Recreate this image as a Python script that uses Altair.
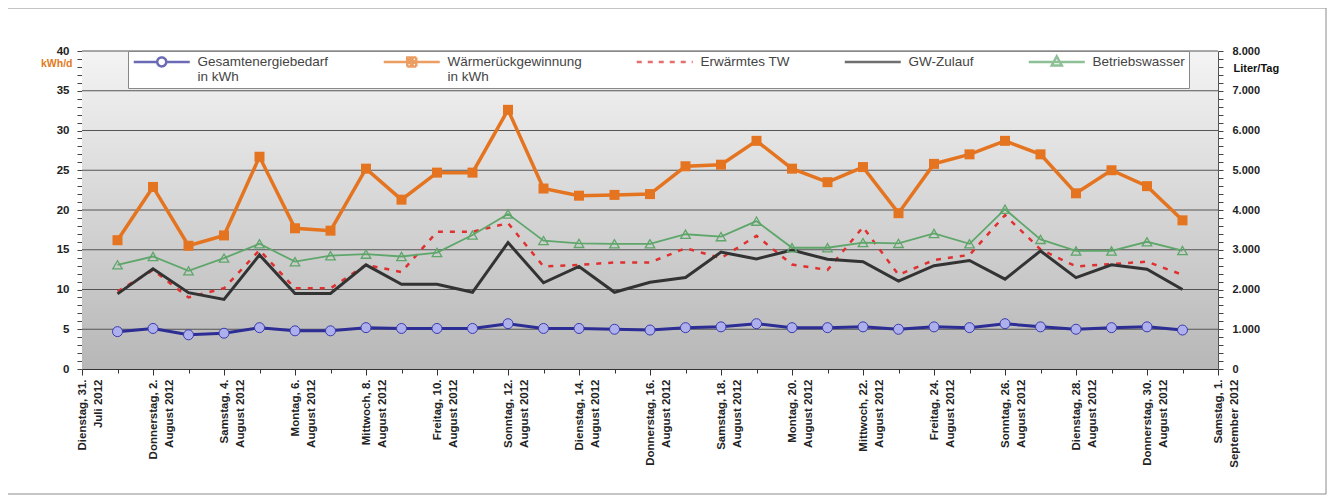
import json
import altair as alt
import pandas as pd

# ---------------- data ----------------
# day index: 0 = Dienstag 31. Juli 2012, 1 = 1. August ... 32 = 1. September
days = list(range(1, 32))

gesamtenergiebedarf = [4.7, 5.1, 4.3, 4.5, 5.2, 4.8, 4.8, 5.2, 5.1, 5.1, 5.1, 5.7, 5.1, 5.1, 5.0, 4.9,
                       5.2, 5.3, 5.7, 5.2, 5.2, 5.3, 5.0, 5.3, 5.2, 5.7, 5.3, 5.0, 5.2, 5.3, 4.9]
waermerueckgewinnung = [16.2, 22.9, 15.5, 16.8, 26.7, 17.7, 17.4, 25.2, 21.3, 24.7, 24.7, 32.6, 22.7, 21.8,
                        21.9, 22.0, 25.5, 25.7, 28.7, 25.2, 23.5, 25.4, 19.6, 25.8, 27.0, 28.7, 27.0, 22.1,
                        25.0, 23.0, 18.7]
erwaermtes_tw = [1950, 2490, 1800, 2030, 2990, 2030, 2030, 2620, 2440, 3450, 3450, 3670, 2580, 2620, 2680,
                 2680, 3040, 2790, 3350, 2630, 2490, 3570, 2370, 2740, 2870, 3870, 3010, 2580, 2640, 2700, 2370]
gw_zulauf = [1890, 2520, 1920, 1750, 2870, 1900, 1900, 2620, 2130, 2130, 1930, 3180, 2170, 2580, 1930, 2180,
             2300, 2940, 2770, 2990, 2760, 2700, 2210, 2600, 2730, 2260, 2970, 2300, 2620, 2510, 2000]
betriebswasser = [2620, 2830, 2470, 2790, 3150, 2700, 2850, 2890, 2830, 2930, 3370, 3900, 3230, 3160, 3150,
                  3150, 3390, 3330, 3720, 3050, 3050, 3180, 3160, 3410, 3150, 4020, 3260, 2970, 2970, 3200, 2980]

series_names = ["Gesamtenergiebedarf in kWh", "Wärmerückgewinnung in kWh", "Erwärmtes TW",
                "GW-Zulauf", "Betriebswasser"]

x_tick_labels = [
    ["Dienstag, 31.", "Juli 2012"], "",
    ["Donnerstag, 2.", "August 2012"], "",
    ["Samstag, 4.", "August 2012"], "",
    ["Montag, 6.", "August 2012"], "",
    ["Mittwoch, 8.", "August 2012"], "",
    ["Freitag, 10.", "August 2012"], "",
    ["Sonntag, 12.", "August 2012"], "",
    ["Dienstag, 14.", "August 2012"], "",
    ["Donnerstag, 16.", "August 2012"], "",
    ["Samstag, 18.", "August 2012"], "",
    ["Montag, 20.", "August 2012"], "",
    ["Mittwoch, 22.", "August 2012"], "",
    ["Freitag, 24.", "August 2012"], "",
    ["Sonntag, 26.", "August 2012"], "",
    ["Dienstag, 28.", "August 2012"], "",
    ["Donnerstag, 30.", "August 2012"], "",
    ["Samstag, 1.", "September 2012"],
]
x_ticks = list(range(0, 33))
kwh_ticks = list(range(0, 41))
kwh_grid = [5, 10, 15, 20, 25, 30, 35, 40]
liter_ticks = list(range(0, 8001, 200))

# ---------------- styles ----------------
FONT = "Liberation Sans"
W, H = 1136, 318
BLUE, ORANGE, RED, BLACK, GREEN = "#2d2d96", "#e47420", "#e03030", "#333333", "#5ea66a"
series_colors = [BLUE, ORANGE, RED, BLACK, GREEN]
# legend symbols: a short line with the series marker (unit = 5 px)
legend_paths = [
    "M-5.6,0H-0.9A0.9,0.9 0 1,1 0.9,0H5.6M-0.9,0A0.9,0.9 0 1,0 0.9,0",
    "M-5.6,0H5.6M-0.9,-0.9H0.9V0.9H-0.9ZM-0.4,-0.4H0.4V0.4H-0.4Z",
    "M-5.6,0H5.6",
    "M-5.6,0H5.6",
    "M-5.6,0H5.6M0,-1.1L1.0,0.7H-1.0Z",
]
legend_dashes = [[1, 0], [1, 0], [5, 6], [1, 0], [1, 0]]

x_scale = alt.Scale(domain=[0, 32], nice=False, zero=False)
y_kwh = alt.Scale(domain=[0, 40], nice=False, zero=True)
y_lit = alt.Scale(domain=[0, 8000], nice=False, zero=True)

x_axis = alt.Axis(
    values=x_ticks,
    labelExpr=json.dumps(x_tick_labels, ensure_ascii=False) + "[datum.value]",
    labelAngle=270, labelAlign="right", labelBaseline="middle",
    labelFont=FONT, labelFontSize=11.5, labelFontWeight="bold", labelColor="#222222",
    labelLineHeight=16, labelPadding=4, labelFlush=False, labelOverlap=False, labelLimit=200,
    tickSize={"condition": {"test": "datum.value % 2 === 0", "value": 6}, "value": 4},
    tickColor="#333333", domainColor="#333333", grid=False, title=None,
)
left_axis = alt.Axis(
    values=kwh_ticks, orient="left",
    labelExpr="datum.value % 5 === 0 ? datum.label : ''",
    tickSize=5, tickColor="#444444", domainColor="#555555", grid=False,
    labelFont=FONT, labelFontSize=11.5, labelFontWeight="bold", labelColor="#222222", labelPadding=8,
    title="kWh/d", titleAngle=0, titleAlign="right", titleBaseline="middle", titleX=-10, titleY=12,
    titleFont=FONT, titleFontSize=10.5, titleFontWeight="bold", titleColor="#e07b22",
)
right_axis = alt.Axis(
    values=liter_ticks, orient="right",
    labelExpr="datum.value % 1000 === 0 ? replace(format(datum.value, ','), ',', '.') : ''",
    tickSize=5, tickColor="#444444", domainColor="#555555", grid=False,
    labelFont=FONT, labelFontSize=11, labelFontWeight="bold", labelColor="#222222", labelPadding=9,
    title="Liter/Tag", titleAngle=0, titleAlign="left", titleBaseline="middle", titleX=15, titleY=17,
    titleFont=FONT, titleFontSize=11, titleFontWeight="bold", titleColor="#111111",
)
legend = alt.Legend(
    title=None, orient="none", legendX=46, legendY=0, direction="horizontal",
    fillColor="white", strokeColor="#888888", padding=4,
    symbolSize=100, symbolStrokeWidth=2.5, symbolOffset=23, labelOffset=29,
    labelFont=FONT, labelFontSize=13.5, labelColor="#444444", labelLimit=400,
    labelExpr="indexof(datum.label, ' in kWh') > 0 ? [replace(datum.label, ' in kWh', ''), 'in kWh'] : [datum.label, '']",
    columnPadding=49,
)

one = pd.DataFrame({"k": [0]})

frame = alt.Chart(one).mark_rect(fillOpacity=0, stroke="#8a8a8a", strokeWidth=1).encode(
    x=alt.value(-75), x2=alt.value(1244), y=alt.value(-43), y2=alt.value(443))

bg = alt.Chart(one).mark_rect(
    fill=alt.Gradient(gradient="linear",
                      stops=[alt.GradientStop(color="#f4f4f4", offset=0),
                             alt.GradientStop(color="#b7b7b7", offset=1)],
                      x1=0, x2=0, y1=0, y2=1)
).encode(x=alt.value(0), x2=alt.value(W), y=alt.value(0), y2=alt.value(H))

grid = alt.Chart(pd.DataFrame({"v": kwh_grid})).mark_rule(color="#555555", strokeWidth=1).encode(
    y=alt.Y("v:Q", scale=y_kwh, axis=left_axis))


def enc(chart, scale, axis):
    return chart.encode(
        x=alt.X("day:Q", scale=x_scale, axis=x_axis),
        y=alt.Y("value:Q", scale=scale, axis=axis),
    )


def line(values, scale, axis, **mark):
    df = pd.DataFrame({"day": days, "value": values})
    return enc(alt.Chart(df).mark_line(**mark), scale, axis)


def points(values, scale, axis, **mark):
    df = pd.DataFrame({"day": days, "value": values})
    return enc(alt.Chart(df).mark_point(opacity=1, **mark), scale, axis)


blue_line = line(gesamtenergiebedarf, y_kwh, left_axis, color=BLUE, strokeWidth=3)
blue_pts = points(gesamtenergiebedarf, y_kwh, left_axis, shape="circle", filled=True,
                  fill="#aeb0ec", stroke="#3a3ab0", strokeWidth=1, size=100)
orange_line = line(waermerueckgewinnung, y_kwh, left_axis, color=ORANGE, strokeWidth=3.5)
orange_pts = points(waermerueckgewinnung, y_kwh, left_axis, shape="square", filled=True,
                    color=ORANGE, size=100)

red_line = line(erwaermtes_tw, y_lit, right_axis, color=RED, strokeWidth=2.5, strokeDash=[5, 7])
black_line = line(gw_zulauf, y_lit, right_axis, color=BLACK, strokeWidth=3)
green_line = line(betriebswasser, y_lit, right_axis, color=GREEN, strokeWidth=1.8)
green_pts = points(betriebswasser, y_lit, right_axis, shape="triangle-up", filled=False,
                   color=GREEN, strokeWidth=1.3, size=90)

legend_layer = alt.Chart(pd.DataFrame({"series": series_names})).mark_point(
    filled=False, size=100, strokeWidth=2.5
).encode(
    color=alt.Color("series:N", scale=alt.Scale(domain=series_names, range=series_colors), legend=legend),
    shape=alt.Shape("series:N", scale=alt.Scale(domain=series_names, range=legend_paths), legend=legend),
    strokeDash=alt.StrokeDash("series:N", scale=alt.Scale(domain=series_names, range=legend_dashes),
                              legend=legend),
).transform_filter("false")

left = alt.layer(frame, bg, grid, blue_line, blue_pts, orange_line, orange_pts)
right = alt.layer(red_line, black_line, green_line, green_pts, legend_layer)

chart = alt.layer(left, right).resolve_scale(y="independent").properties(
    width=W, height=H,
    autosize=alt.AutoSizeParams(type="none"),
    padding={"left": 74, "top": 43, "right": 115, "bottom": 128},
).configure(background="white").configure_view(strokeWidth=0)

chart.save("out.html", embed_options={"renderer": "svg", "actions": False})
